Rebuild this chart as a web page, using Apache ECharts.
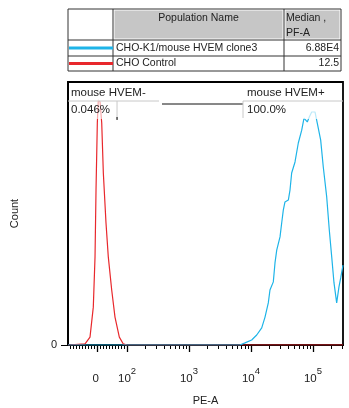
<!DOCTYPE html>
<html><head><meta charset="utf-8">
<script src="https://cdn.jsdelivr.net/npm/echarts@6/dist/echarts.min.js"></script>
<style>html,body{margin:0;padding:0;background:#fff}#c{width:349px;height:408px}</style>
</head><body><div id="c"></div>
<script>
// ---- data ----
const populations = ['CHO-K1/mouse HVEM clone3', 'CHO Control'];
const medians = ['6.88E4', '12.5'];
const seriesColors = ['#1eb4e8', '#e8282c'];
const headerName = 'Population Name';
const headerMedian = ['Median ,', 'PF-A'];
const gateNames = ['mouse HVEM-', 'mouse HVEM+'];
const gatePercents = ['0.046%', '100.0%'];
// x axis in biexponential display units (decades); 0 sits at 1.516
const xMin = 1.048, xMax = 5.484, zeroPos = 1.516;
const xTickValues = [1.516, 2, 3, 4, 5];
const xTickLabels = ['0', '10|2', '10|3', '10|4', '10|5'];
const gateEdges = [1.839, 3.871];
// histogram curves (x in display units, y in % of max count)
const blueX = [1.048, 3.823, 3.903, 4.011, 4.092, 4.173, 4.226, 4.279, 4.306, 4.360, 4.387, 4.415, 4.468, 4.495, 4.521, 4.548, 4.602, 4.629, 4.656, 4.710, 4.763, 4.818, 4.855, 4.908, 4.940, 4.979, 5.032, 5.069, 5.124, 5.166, 5.221, 5.263, 5.302, 5.339, 5.382, 5.419, 5.447, 5.484];
const blueY = [0, 0, 0.8, 1.9, 3.8, 6.5, 10.6, 16.0, 20.9, 24.0, 31.2, 36.1, 41.1, 46.4, 51.3, 54.4, 55.1, 58.9, 65.4, 69.6, 76.8, 81.7, 86.3, 84.8, 86.7, 88.6, 88.6, 84.4, 77.9, 67.7, 56.3, 43.7, 33.5, 23.6, 16.0, 22.1, 25.5, 30.4];
const redX = [1.048, 1.323, 1.403, 1.456, 1.484, 1.500, 1.521, 1.537, 1.548, 1.565, 1.592, 1.618, 1.661, 1.698, 1.753, 1.806, 1.876, 1.940, 2.0, 5.484];
const redY = [0, 0.4, 3.0, 14.4, 33.5, 58.9, 84.4, 93.2, 93.9, 92.4, 84.4, 65.4, 46.4, 33.5, 20.9, 10.6, 3.0, 0.4, 0, 0];

// ---- axis helpers ----
function toDisp(v) {
  if (Math.abs(v) < 100) return zeroPos + v / 100 * (2 - zeroPos);
  return Math.log10(v);
}
const minorTicks = [];
for (let v = -90; v <= 90; v += 10) if (v !== 0) minorTicks.push(toDisp(v));
for (let d = 2; d <= 5; d++) for (let k = 2; k <= 9; k++) {
  const u = toDisp(k * Math.pow(10, d));
  if (u <= xMax) minorTicks.push(u);
}

const L = 68, R = 343, T = 82, B = 345;
const FONT = 'Liberation Sans, Arial, sans-serif';
const chart = echarts.init(document.getElementById('c'), null, {renderer: 'canvas'});

const option = {
  backgroundColor: '#fff',
  animation: false,
  grid: {left: L, top: T, width: R - L, height: B - T, containLabel: false, outerBoundsMode: 'none',
    show: true, borderColor: '#000', borderWidth: 1.8, backgroundColor: 'transparent'},
  xAxis: [{
    type: 'value', min: xMin, max: xMax,
    name: 'PE-A', nameLocation: 'middle', nameGap: 50,
    nameTextStyle: {fontFamily: FONT, fontSize: 11, color: '#222'},
    axisLine: {show: true, lineStyle: {color: '#000', width: 1.8}},
    axisTick: {show: true, customValues: xTickValues, length: 7, lineStyle: {color: '#000', width: 1.3}},
    splitLine: {show: false},
    axisLabel: {
      customValues: xTickValues, margin: 21,
      formatter: function (val) {
        let i = 0, best = 1e9;
        xTickValues.forEach((t, j) => { if (Math.abs(t - val) < best) { best = Math.abs(t - val); i = j; } });
        const parts = xTickLabels[i].split('|');
        return '{b|' + parts[0] + '}{s|' + (parts[1] || ' ') + '}';
      },
      rich: {
        b: {fontFamily: FONT, fontSize: 11.5, color: '#222', verticalAlign: 'bottom'},
        s: {fontFamily: FONT, fontSize: 9.5, color: '#222', padding: [0, 0, 9, 0], verticalAlign: 'bottom'}
      }
    }
  }, {
    type: 'value', min: xMin, max: xMax, position: 'bottom', offset: 0,
    axisLine: {show: false},
    axisTick: {show: true, customValues: minorTicks, length: 4, lineStyle: {color: '#000', width: 1}},
    axisLabel: {show: false}, splitLine: {show: false}
  }],
  yAxis: {
    type: 'value', min: 0, max: 100,
    name: 'Count', nameLocation: 'middle', nameGap: 48, nameRotate: 90,
    nameTextStyle: {fontFamily: FONT, fontSize: 11, color: '#222'},
    axisLine: {show: true, lineStyle: {color: '#000', width: 1.8}},
    axisTick: {show: true, customValues: [0], length: 7, lineStyle: {color: '#000'}},
    axisLabel: {customValues: [0], margin: 11, fontFamily: FONT, fontSize: 11, color: '#222'},
    splitLine: {show: false}
  },
  series: [{
    name: populations[1], type: 'line', xAxisIndex: 0, showSymbol: false, z: 2,
    lineStyle: {color: seriesColors[1], width: 1.2},
    data: redX.map((x, i) => [x, redY[i]])
  }, {
    name: populations[0], type: 'line', xAxisIndex: 0, showSymbol: false, z: 3,
    lineStyle: {color: seriesColors[0], width: 1.2},
    data: blueX.map((x, i) => [x, blueY[i]])
  }]
};
chart.setOption(option);

// ---- table (legend) and gate annotations ----
const g = [];
const tL = 68, tR = 341, c1 = 113, c2 = 284, tT = 9, h1 = 40, h2 = 56, tB = 71;
g.push({type: 'rect', shape: {x: c1 + 1.5, y: tT + 1.5, width: c2 - c1 - 3, height: h1 - tT - 3}, style: {fill: '#c6c6c6'}, z: 10});
g.push({type: 'rect', shape: {x: c2 + 1.5, y: tT + 1.5, width: tR - c2 - 3, height: h1 - tT - 3}, style: {fill: '#c6c6c6'}, z: 10});
g.push({type: 'rect', shape: {x: tL, y: tT, width: tR - tL, height: tB - tT}, style: {fill: 'none', stroke: '#333', lineWidth: 1}, z: 11});
[[c1, tT, c1, tB], [c2, tT, c2, tB], [tL, h1, tR, h1], [tL, h2, tR, h2]].forEach(p =>
  g.push({type: 'line', shape: {x1: p[0], y1: p[1], x2: p[2], y2: p[3]}, style: {stroke: '#333', lineWidth: 1}, z: 11}));
g.push({type: 'text', x: (c1 + c2) / 2, y: 18, style: {text: headerName, fontFamily: FONT, fontSize: 10.5, fill: '#222', align: 'center', verticalAlign: 'middle'}, z: 12});
g.push({type: 'text', x: c2 + 2, y: 18, style: {text: headerMedian[0], fontFamily: FONT, fontSize: 10.5, fill: '#222', verticalAlign: 'middle'}, z: 12});
g.push({type: 'text', x: c2 + 2, y: 33, style: {text: headerMedian[1], fontFamily: FONT, fontSize: 10.5, fill: '#222', verticalAlign: 'middle'}, z: 12});
[[h1, h2], [h2, tB]].forEach((r, i) => {
  const cy = (r[0] + r[1]) / 2;
  g.push({type: 'line', shape: {x1: tL + 1, y1: cy, x2: c1, y2: cy}, style: {stroke: seriesColors[i], lineWidth: 3}, z: 12});
  g.push({type: 'text', x: c1 + 3, y: cy, style: {text: populations[i], fontFamily: FONT, fontSize: 10.5, fill: '#222', verticalAlign: 'middle'}, z: 12});
  g.push({type: 'text', x: tR - 2, y: cy, style: {text: medians[i], fontFamily: FONT, fontSize: 10.5, fill: '#222', align: 'right', verticalAlign: 'middle'}, z: 12});
});
// gates
const gx0 = chart.convertToPixel({xAxisIndex: 0}, gateEdges[0]);
const gx1 = chart.convertToPixel({xAxisIndex: 0}, gateEdges[1]);
const lineY = 101, barY = 104;
g.push({type: 'rect', shape: {x: L + 1, y: T + 1, width: 90, height: lineY - T - 1}, style: {fill: 'rgba(255,255,255,0.85)'}, z: 8});
g.push({type: 'rect', shape: {x: L + 1, y: lineY, width: gx0 - L - 1, height: 18}, style: {fill: 'rgba(255,255,255,0.6)'}, z: 8});
g.push({type: 'rect', shape: {x: gx1, y: T + 1, width: R - gx1 - 1, height: 36}, style: {fill: 'rgba(255,255,255,0.7)'}, z: 8});
g.push({type: 'line', shape: {x1: L, y1: lineY, x2: L + 91, y2: lineY}, style: {stroke: '#c8c8c8', lineWidth: 1}, z: 9});
g.push({type: 'line', shape: {x1: gx0, y1: lineY, x2: gx0, y2: lineY + 18}, style: {stroke: '#c8c8c8', lineWidth: 1}, z: 9});
g.push({type: 'line', shape: {x1: gx0, y1: lineY + 16, x2: gx0, y2: lineY + 19}, style: {stroke: '#000', lineWidth: 1}, z: 9});
g.push({type: 'line', shape: {x1: L + 94, y1: barY, x2: gx1, y2: barY}, style: {stroke: '#111', lineWidth: 1}, z: 9});
g.push({type: 'line', shape: {x1: gx1, y1: lineY, x2: R, y2: lineY}, style: {stroke: '#c8c8c8', lineWidth: 1}, z: 9});
g.push({type: 'line', shape: {x1: gx1, y1: lineY, x2: gx1, y2: lineY + 17}, style: {stroke: '#c8c8c8', lineWidth: 1}, z: 9});
g.push({type: 'text', x: L + 3, y: 93, style: {text: gateNames[0], fontFamily: FONT, fontSize: 11.5, fill: '#222', verticalAlign: 'middle'}, z: 12});
g.push({type: 'text', x: L + 3, y: 110, style: {text: gatePercents[0], fontFamily: FONT, fontSize: 11.5, fill: '#222', verticalAlign: 'middle'}, z: 12});
g.push({type: 'text', x: gx1 + 4, y: 93, style: {text: gateNames[1], fontFamily: FONT, fontSize: 11.5, fill: '#222', verticalAlign: 'middle'}, z: 12});
g.push({type: 'text', x: gx1 + 4, y: 110, style: {text: gatePercents[1], fontFamily: FONT, fontSize: 11.5, fill: '#222', verticalAlign: 'middle'}, z: 12});
chart.setOption({graphic: g});
</script></body></html>
